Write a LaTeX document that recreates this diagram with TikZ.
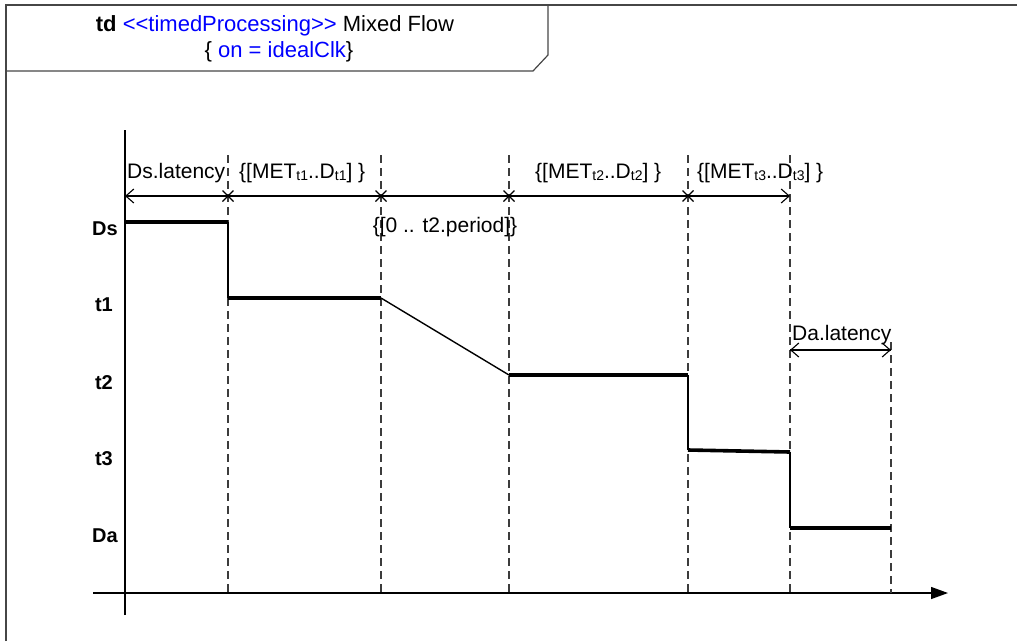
\documentclass[tikz,border=0pt]{standalone}
\usepackage{fontspec}
\setmainfont{Liberation Sans}[Ligatures=TeXOff]
\usetikzlibrary{arrows.meta}
\definecolor{umlblue}{RGB}{0,0,255}
\definecolor{frameline}{RGB}{70,70,70}
\definecolor{guidegray}{RGB}{60,60,60}
\newcommand{\mysub}[1]{\raisebox{-2.5pt}{\fontsize{14}{14}\selectfont #1}}
\begin{document}
\begin{tikzpicture}[x=1pt,y=-1pt,
  lbl/.style={font=\fontsize{21}{24}\selectfont, inner sep=0pt, anchor=base west},
  rowlbl/.style={font=\fontsize{20}{22}\selectfont\bfseries, inner sep=0pt, anchor=base east},
  guide/.style={guidegray, line width=1.2pt, dash pattern=on 8pt off 5pt},
  level/.style={black, line width=3.6pt},
  drop/.style={black, line width=1.4pt},
  axis/.style={black, line width=1.3pt},
  dim/.style={black, line width=1.1pt},
  xmark/.style={black, line width=1.2pt},
  openarrow/.style={-{Straight Barb[length=8pt,width=14pt,line width=1.1pt]}}
]
\useasboundingbox (0,0) rectangle (1017,641);
% frame
\draw[frameline, line width=1.3pt] (6,641) -- (6,5) -- (1017,5);
\draw[frameline, line width=1.2pt] (6,71) -- (533,71) -- (548,55) -- (548,5);
\node[font=\fontsize{22}{24}\selectfont, inner sep=0pt, anchor=base] (title1) at (275,31)
  {\textbf{td} \textcolor{umlblue}{<<timedProcessing>>} Mixed Flow};
\node[font=\fontsize{22}{24}\selectfont, inner sep=0pt, anchor=base] (title2) at (279,57)
  {\{ \textcolor{umlblue}{on = idealClk}\}};

% axes
\coordinate (ytop) at (125,130);
\coordinate (ybot) at (125,615);
\coordinate (xl) at (93,593);
\coordinate (xr) at (948,593);
\draw[axis] (ybot) -- (ytop);
\draw[axis, -{Triangle[length=17pt,width=12pt]}] (xl) -- (xr);

% guides
\foreach \n/\x/\t in {g1/228/155, g2/381/155, g3/509/155, g4/688/155, g5/790/155, g6/891/342} {
  \coordinate (\n top) at (\x,\t);
  \coordinate (\n bot) at (\x,593);
  \draw[guide] (\n top) -- (\n bot);
}

% top dimension line
\coordinate (d0) at (125,196);
\coordinate (d1) at (228,196);
\coordinate (d2) at (381,196);
\coordinate (d3) at (509,196);
\coordinate (d4) at (688,196);
\coordinate (d5) at (790,196);
\draw[dim] (d1) -- (d2) -- (d3) -- (d4);
\draw[dim, openarrow] (d1) -- (d0);
\draw[dim, openarrow] (d4) -- (d5);
\foreach \c in {d1,d2,d3,d4} {
  \draw[xmark] ([shift={(-5.5,-5.5)}]\c) -- ([shift={(5.5,5.5)}]\c);
  \draw[xmark] ([shift={(-5.5,5.5)}]\c) -- ([shift={(5.5,-5.5)}]\c);
}

% Da latency dimension
\coordinate (e0) at (790,350);
\coordinate (e1) at (891,350);
\draw[dim, openarrow] (e0) -- (e1);
\draw[dim, openarrow] (e1) -- (e0);

% labels
\node[lbl] (dslat) at (127,178) {Ds.latency};
\node[lbl] (met1) at (239,178) {\{[MET\mysub{t1}..D\mysub{t1}] \}};
\node[lbl, anchor=base] (per) at (445,232) {\{[0 .. t2.period]\}};
\node[lbl] (met2) at (535,178) {\{[MET\mysub{t2}..D\mysub{t2}] \}};
\node[lbl] (met3) at (697,178) {\{[MET\mysub{t3}..D\mysub{t3}] \}};
\node[lbl] (dalat) at (792,340) {Da.latency};

\node[rowlbl] (rDs) at (118,235) {Ds};
\node[rowlbl] (rt1) at (113,311) {t1};
\node[rowlbl] (rt2) at (113,389) {t2};
\node[rowlbl] (rt3) at (113,465) {t3};
\node[rowlbl] (rDa) at (118,542) {Da};

% signal
\coordinate (s0) at (125,222);
\coordinate (s1) at (228,222);
\coordinate (s2) at (228,298);
\coordinate (s3) at (381,298);
\coordinate (s4) at (509,375);
\coordinate (s5) at (688,375);
\coordinate (s6) at (688,450);
\coordinate (s7) at (790,452);
\coordinate (s8) at (790,528);
\coordinate (s9) at (891,528);
\draw[level] (s0) -- (s1);
\draw[drop] (s1) -- (s2);
\draw[level] (s2) -- (s3);
\draw[drop] (s3) -- (s4);
\draw[level] (s4) -- (s5);
\draw[drop] (s5) -- (s6);
\draw[level] (s6) -- (s7);
\draw[drop] (s7) -- (s8);
\draw[level] (s8) -- (s9);
\end{tikzpicture}
\end{document}
